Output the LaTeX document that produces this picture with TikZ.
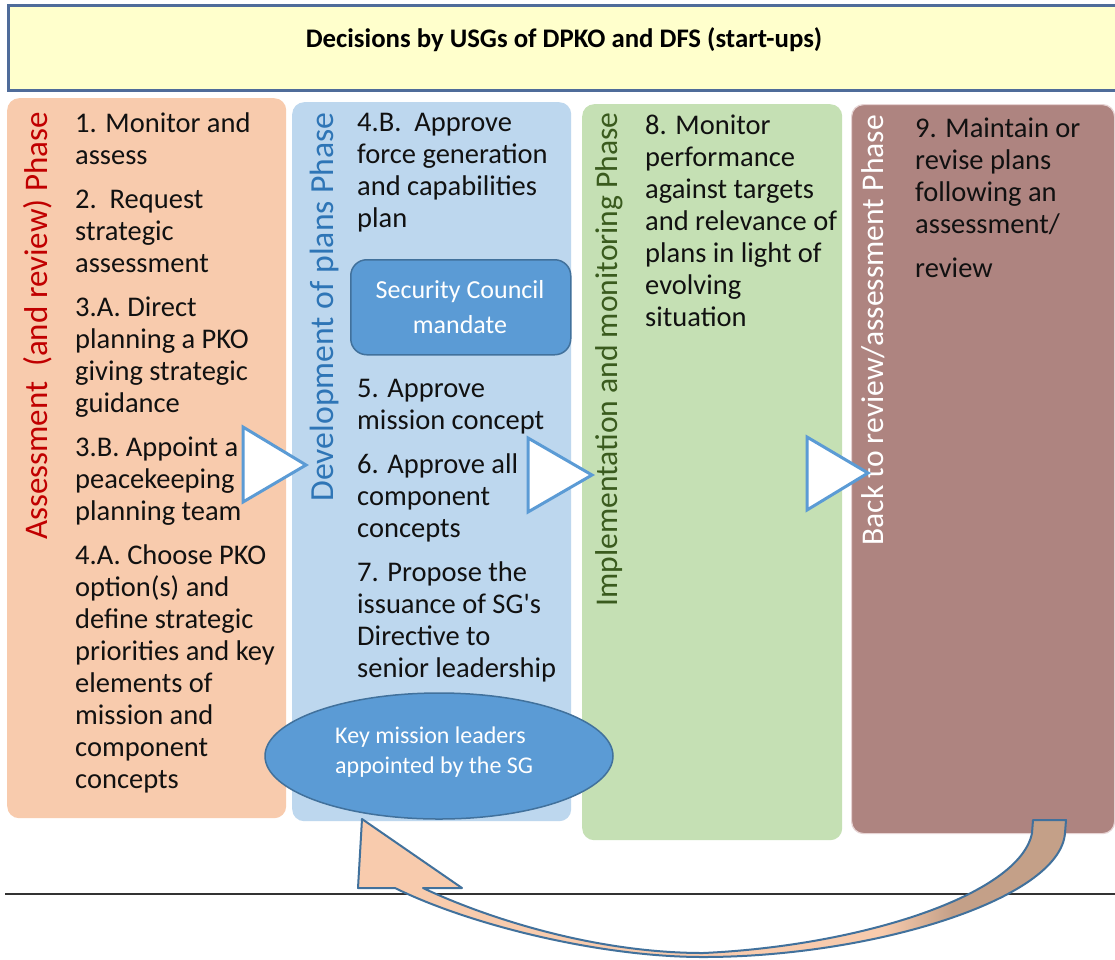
\documentclass[tikz,border=0pt]{standalone}
\usepackage{fontspec}
\setmainfont{Carlito}
\newfontfamily\plainquote{Carlito}
\usetikzlibrary{shapes.geometric}

\definecolor{bannerfill}{HTML}{FFFFCC}
\definecolor{bannerline}{HTML}{4F6C9A}
\definecolor{assessfill}{HTML}{F8CBAD}
\definecolor{devfill}{HTML}{BDD7EE}
\definecolor{implfill}{HTML}{C5E0B4}
\definecolor{backfill}{HTML}{AE8480}
\definecolor{backline}{HTML}{E6D3D3}
\definecolor{keyblue}{HTML}{5B9BD5}
\definecolor{keyline}{HTML}{41719C}
\definecolor{assesstext}{HTML}{C00000}
\definecolor{devtext}{HTML}{2E75B6}
\definecolor{impltext}{HTML}{3A5B1E}
\definecolor{arrowpeach}{HTML}{F8CBAD}
\definecolor{arrowtan}{HTML}{C4A088}
\definecolor{bodyink}{HTML}{111111}
\definecolor{ruleink}{HTML}{333333}

% peach along the shaft, tan near the tail
\pgfdeclarehorizontalshading{returnshade}{100bp}{color(0bp)=(arrowpeach); color(62bp)=(arrowpeach); color(67bp)=(arrowtan); color(100bp)=(arrowtan)}

\tikzset{
  phasebox/.style={rounded corners=12pt, inner sep=0pt, anchor=north west},
  phaselabel/.style={rotate=90, anchor=base east, inner sep=0pt},
  steptext/.style={anchor=north west, align=left, inner sep=0pt, text=bodyink, font=\fontsize{28.5}{32}\selectfont},
  keyshape/.style={fill=keyblue, draw=keyline, line width=1.5pt},
  keytext/.style={inner sep=0pt, text=white},
  flowtri/.style={fill=white, draw=keyblue, line width=3pt, line join=miter},
}

\begin{document}
\begin{tikzpicture}[x=1pt,y=-1pt]
\useasboundingbox (0,0) rectangle (1115,959);
\fill[white] (0,0) rectangle (1115,959);

% header banner
\node[draw=bannerline, line width=3pt, fill=bannerfill, anchor=north west,
      minimum width=1125pt, minimum height=85pt, inner sep=0pt] (banner) at (7,4) {};
\node[anchor=base, inner sep=0pt, font=\fontsize{26.8}{30}\selectfont\bfseries] (title) at (564,47)
  {Decisions by USGs of DPKO and DFS (start-ups)};

% phase columns
\node[phasebox, fill=assessfill, minimum width=279pt, minimum height=720pt] (assess) at (7,98) {};
\node[phasebox, fill=devfill, minimum width=279pt, minimum height=719pt] (develop) at (292,102) {};
\node[phasebox, fill=implfill, minimum width=260pt, minimum height=736pt] (implement) at (582,104) {};
\node[phasebox, fill=backfill, draw=backline, line width=1.2pt, minimum width=263pt, minimum height=729pt] (back) at (851,104) {};

% column titles
\node[phaselabel, text=assesstext, font=\fontsize{33}{40}\selectfont] (assesslabel) at (47,112) {Assessment\ \ (and review) Phase};
\node[phaselabel, text=devtext, font=\fontsize{33.7}{40}\selectfont] (developlabel) at (333,112) {Development of plans Phase};
\node[phaselabel, text=impltext, font=\fontsize{31.6}{40}\selectfont] (implementlabel) at (617,112) {Implementation and monitoring Phase};
\node[phaselabel, text=white, font=\fontsize{31.6}{40}\selectfont] (backlabel) at (883,115) {Back to review/assessment Phase};

% steps
\node[steptext] (assesssteps) at (75,109.6)
  {\strut 1. Monitor and\\assess\\[12pt]
   2.\ \ Request\\strategic\\assessment\\[12pt]
   3.A. Direct\\planning a PKO\\giving strategic\\guidance\\[12pt]
   3.B. Appoint a\\peacekeeping\\planning team\\[12pt]
   4.A. Choose PKO\\option(s) and\\define strategic\\priorities and key\\elements of\\mission and\\component\\concepts};

\node[steptext] (developstepsA) at (357,108.6)
  {\strut 4.B.\ \ Approve\\force generation\\and capabilities\\plan};

\node[steptext] (developstepsB) at (357,374.6)
  {\strut 5. Approve\\mission concept\\[12pt]
   6. Approve all\\component\\concepts\\[12pt]
   7. Propose the\\issuance of SG{\plainquote '}s\\Directive to\\senior leadership};

\node[steptext] (implementsteps) at (645,111.6)
  {\strut 8. Monitor\\performance\\against targets\\and relevance of\\plans in light of\\evolving\\situation};

\node[steptext] (backsteps) at (915,114.6)
  {\strut 9. Maintain or\\revise plans\\following an\\assessment/\\[12pt]review};

% Security Council mandate
\node[keyshape, rounded corners=16pt, anchor=north west, minimum width=220pt, minimum height=95pt, inner sep=0pt] (mandate) at (350,259) {};
\node[keytext, anchor=north, align=center, font=\fontsize{26}{35}\selectfont] (mandatetext) at (460,273.5)
  {\strut Security Council\\mandate};

% key mission leaders
\node[keyshape, ellipse, minimum width=348pt, minimum height=126pt, inner sep=0pt] (leaders) at (439,756) {};
\node[keytext, anchor=north west, align=left, font=\fontsize{24}{30}\selectfont] (leaderstext) at (335,722)
  {\strut Key mission leaders\\appointed by the SG};

% hand-over arrows between phases
\coordinate (t1a) at (243,427); \coordinate (t1b) at (306,465); \coordinate (t1c) at (243,502);
\coordinate (t2a) at (528,438); \coordinate (t2b) at (592,475); \coordinate (t2c) at (528,512);
\coordinate (t3a) at (807,437); \coordinate (t3b) at (868,473); \coordinate (t3c) at (807,510);
\path[flowtri] (t1a) -- (t1b) -- (t1c) -- cycle;
\path[flowtri] (t2a) -- (t2b) -- (t2c) -- cycle;
\path[flowtri] (t3a) -- (t3b) -- (t3c) -- cycle;

% separator rule
\coordinate (ruleL) at (5,894);
\coordinate (ruleR) at (1115,894);
\draw[ruleink, line width=1.5pt] (ruleL) -- (ruleR);

% curved return arrow from the last phase back to plan development
\coordinate (headtip) at (362,819);
\coordinate (headleft) at (358,888);
\coordinate (shaftouter) at (395,888);
\coordinate (shaftinner) at (423,888);
\coordinate (headright) at (462,888);
\coordinate (lowpointouter) at (703,957);
\coordinate (lowpointinner) at (703,953);
\coordinate (tailouterbend) at (1065,833);
\coordinate (tailoutertop) at (1066,820);
\coordinate (tailinnertop) at (1033,820);
\coordinate (tailinnerbend) at (1032,833);
\path[shading=returnshade, draw=keyline, line width=2pt, line join=round]
  (headtip) -- (headleft) -- (shaftouter)
  .. controls (470,925) and (600,957) .. (lowpointouter)
  .. controls (870,957) and (1060,900) .. (tailouterbend)
  -- (tailoutertop) -- (tailinnertop) -- (tailinnerbend)
  .. controls (1020,895) and (860,946) .. (lowpointinner)
  .. controls (590,953) and (480,915) .. (shaftinner)
  -- (headright) -- cycle;
\end{tikzpicture}
\end{document}
